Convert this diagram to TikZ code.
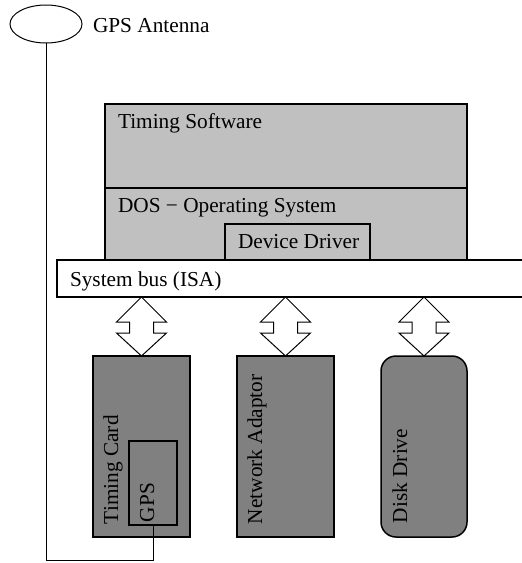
\documentclass[tikz,border=0pt]{standalone}
\usepackage{fontspec}
\setmainfont{Liberation Serif}
\usetikzlibrary{shapes.geometric}
\definecolor{lightg}{RGB}{192,192,192}
\definecolor{darkg}{RGB}{128,128,128}
\begin{document}
\begin{tikzpicture}[x=1pt,y=-1pt,
  every node/.style={font=\fontsize{21.3}{25}\selectfont, inner sep=0pt, outer sep=0pt},
  swbox/.style={draw, fill=lightg, line width=1.2pt, anchor=north west},
  hwbox/.style={draw, fill=darkg, line width=1.5pt, anchor=north west},
  lbl/.style={anchor=base west},
  vlbl/.style={anchor=base west, rotate=90},
  wire/.style={line width=1pt},
  busarrow/.style={draw, fill=white, line width=1pt, line join=miter}
]
\useasboundingbox (0,0) rectangle (522,563);
% antenna
\node[draw, ellipse, line width=1pt, minimum width=72pt, minimum height=38pt] (ant) at (46,24) {};
\node[lbl] (antl) at (93,32) {GPS Antenna};
% software stack
\node[swbox, minimum width=362pt, minimum height=84pt] (ts) at (105,104) {};
\node[lbl] (tsl) at (118,128) {Timing Software};
\node[swbox, minimum width=362pt, minimum height=80pt] (dos) at (105,188) {};
\node[lbl] (dosl) at (118,212) {DOS \char"2212\ Operating System};
\node[swbox, minimum width=145pt, minimum height=44pt] (dd) at (225,224) {};
\node[lbl] (ddl) at (238,248) {Device Driver};
% bus
\node[draw, fill=white, line width=1.2pt, anchor=north west, minimum width=480pt, minimum height=37pt] (bus) at (57,260) {};
\node[lbl] (busl) at (70,286) {System bus (ISA)};
% hardware
\node[hwbox, minimum width=97pt, minimum height=181pt] (tc) at (93,356) {};
\node[vlbl] (tcl) at (118,524) {Timing Card};
\node[draw, line width=2.5pt, anchor=north west, minimum width=48pt, minimum height=84pt] (gps) at (129,441) {};
\node[vlbl] (gpsl) at (154,522) {GPS};
\node[hwbox, minimum width=97pt, minimum height=181pt] (na) at (237,356) {};
\node[vlbl] (nal) at (262,524) {Network Adaptor};
\node[hwbox, rounded corners=15pt, minimum width=86pt, minimum height=181pt] (dk) at (381,356) {};
\node[vlbl] (dkl) at (407,523) {Disk Drive};
% double arrows
\foreach \n in {tc,na,dk}{
  \draw[busarrow] (bus.south -| \n.north) -- ++(25,25) -- ++(-13,0) -- ++(0,11)
     -- ++(13,0) -- (\n.north) -- ++(-25,-23) -- ++(13,0) -- ++(0,-11) -- ++(-13,0) -- cycle;
}
% antenna wire
\coordinate (lc) at (44,560);
\draw[wire] (ant.south) -- (ant.south |- lc) -| (gps.south);
\end{tikzpicture}
\end{document}
